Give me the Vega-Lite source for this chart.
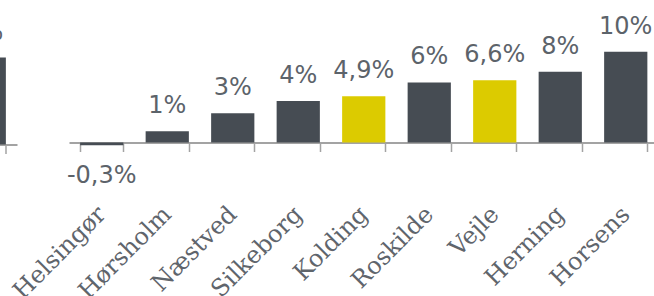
{
  "$schema": "https://vega.github.io/schema/vega-lite/v6.json",
  "padding": {"left": -48.5, "top": 14, "right": 0, "bottom": 0},
  "bounds": "flush",
  "spacing": 51.5,
  "config": {
    "view": {"stroke": null},
    "axis": {
      "domainColor": "#a3a3a3",
      "domainWidth": 2,
      "tickColor": "#a3a3a3",
      "tickWidth": 1.5,
      "tickSize": 9,
      "tickBand": "extent",
      "labelFont": "DejaVu Serif",
      "labelFontSize": 24,
      "labelFontWeight": 300,
      "labelColor": "#5f656c",
      "labelAngle": -45,
      "labelAlign": "right",
      "labelBaseline": "middle",
      "labelPadding": 59,
      "labelOverlap": false,
      "labelLimit": 0,
      "title": null
    },
    "text": {"font": "DejaVu Sans", "fontSize": 24, "color": "#5c636a"}
  },
  "datasets": {
    "left": [
      {"by": "Danmark", "v": 9.2, "label": "9%", "hl": "n"}
    ],
    "main": [
      {"by": "Helsingør", "v": -0.3, "label": "-0,3%", "hl": "n"},
      {"by": "Hørsholm", "v": 1.2, "label": "1%", "hl": "n"},
      {"by": "Næstved", "v": 3.1, "label": "3%", "hl": "n"},
      {"by": "Silkeborg", "v": 4.4, "label": "4%", "hl": "n"},
      {"by": "Kolding", "v": 4.9, "label": "4,9%", "hl": "y"},
      {"by": "Roskilde", "v": 6.35, "label": "6%", "hl": "n"},
      {"by": "Vejle", "v": 6.6, "label": "6,6%", "hl": "y"},
      {"by": "Herning", "v": 7.5, "label": "8%", "hl": "n"},
      {"by": "Horsens", "v": 9.6, "label": "10%", "hl": "n"}
    ]
  },
  "hconcat": [
    {
      "width": 65.5,
      "height": 96.5,
      "data": {"name": "left"},
      "encoding": {
        "x": {"field": "by", "type": "nominal", "sort": null,
              "scale": {"paddingInner": 0.34, "paddingOuter": 0.17},
              "axis": {"labels": false}},
        "y": {"field": "v", "type": "quantitative",
              "scale": {"domain": [0, 10.21], "nice": false}, "axis": null}
      },
      "layer": [
        {"mark": {"type": "bar"},
         "encoding": {"color": {"field": "hl", "type": "nominal",
           "scale": {"domain": ["n", "y"], "range": ["#464c53", "#dccb00"]}, "legend": null}}},
        {"mark": {"type": "text", "baseline": "alphabetic", "dy": -18},
         "encoding": {"text": {"field": "label"}}}
      ]
    },
    {
      "width": 589.5,
      "height": 94.5,
      "data": {"name": "main"},
      "encoding": {
        "x": {"field": "by", "type": "nominal", "sort": null,
              "scale": {"paddingInner": 0.34, "paddingOuter": 0.17}},
        "y": {"field": "v", "type": "quantitative",
              "scale": {"domain": [0, 10], "nice": false}, "axis": null}
      },
      "layer": [
        {"mark": {"type": "bar"},
         "encoding": {"color": {"field": "hl", "type": "nominal",
           "scale": {"domain": ["n", "y"], "range": ["#464c53", "#dccb00"]}, "legend": null}}},
        {"transform": [{"filter": "datum.v >= 0"}],
         "mark": {"type": "text", "baseline": "alphabetic", "dy": -18},
         "encoding": {"text": {"field": "label"}}},
        {"transform": [{"filter": "datum.v < 0"}],
         "mark": {"type": "text", "baseline": "alphabetic", "dy": 38},
         "encoding": {"text": {"field": "label"}}}
      ]
    }
  ]
}
